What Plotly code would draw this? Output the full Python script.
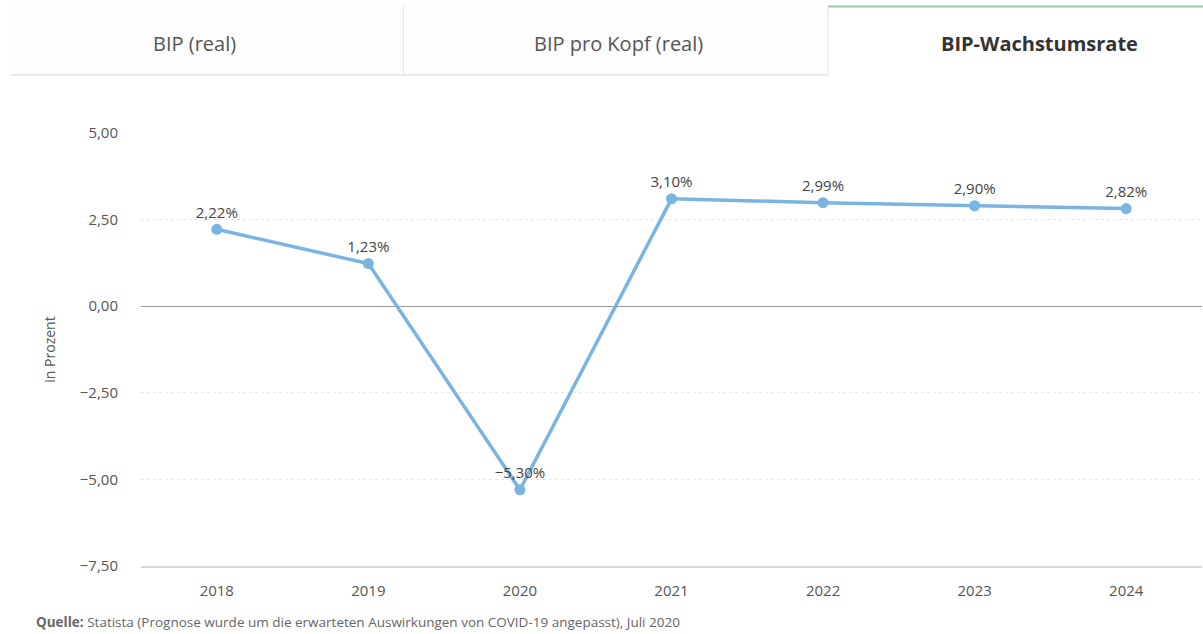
import plotly.graph_objects as go

# Growth rate of real GDP (percent), forecast adjusted for COVID-19
years = ["2018", "2019", "2020", "2021", "2022", "2023", "2024"]
growth = [2.22, 1.23, -5.30, 3.10, 2.99, 2.90, 2.82]
y_ticks = [5.0, 2.5, 0.0, -2.5, -5.0, -7.5]
tab_labels = ["BIP (real)", "BIP pro Kopf (real)", "BIP-Wachstumsrate"]


def de_pct(v):
    s = f"{abs(v):.2f}".replace(".", ",") + "%"
    return ("\u2212" if v < 0 else "") + s


labels = [de_pct(v) for v in growth]

W, H = 1203, 634
L, R, T, B = 141, 1, 133, 68
PW, PH = W - L - R, H - T - B


def px(x):
    return (x - L) / PW


def py(y):
    return (H - B - y) / PH


fig = go.Figure()
fig.add_trace(go.Scatter(
    x=years, y=growth, mode="lines+markers+text",
    text=labels, textposition="top center",
    textfont=dict(family="Open Sans", size=15, color="#444"),
    line=dict(color="#7ab4e0", width=3.5),
    marker=dict(color="#7ab4e0", size=11),
    cliponaxis=False, hoverinfo="skip",
))

shapes = []
# tab strip above the chart
shapes.append(dict(type="rect", xref="paper", yref="paper",
                   x0=px(10), x1=px(828), y0=py(75), y1=py(5),
                   fillcolor="#fdfdfd", line=dict(width=0), layer="below"))
shapes.append(dict(type="line", xref="paper", yref="paper",
                   x0=px(10), x1=px(828), y0=py(75), y1=py(75),
                   line=dict(color="#e3e3e3", width=1.5)))
shapes.append(dict(type="line", xref="paper", yref="paper",
                   x0=px(403.5), x1=px(403.5), y0=py(75), y1=py(5),
                   line=dict(color="#e6e6e6", width=1)))
shapes.append(dict(type="line", xref="paper", yref="paper",
                   x0=px(828), x1=px(828), y0=py(75), y1=py(6),
                   line=dict(color="#e3e3e3", width=1)))
shapes.append(dict(type="line", xref="paper", yref="paper",
                   x0=px(828), x1=px(1203), y0=py(6.5), y1=py(6.5),
                   line=dict(color="#9acb95", width=2)))
fig.update_layout(shapes=shapes)

annotations = []
tab_centers = [194, 618, 1039]
for i, (lab, cx) in enumerate(zip(tab_labels, tab_centers)):
    active = i == 2
    annotations.append(dict(
        xref="paper", yref="paper", x=px(cx), y=py(43),
        text=f"<b>{lab}</b>" if active else lab, showarrow=False,
        xanchor="center", yanchor="middle",
        font=dict(family="Open Sans", size=20,
                  color="#333" if active else "#555"),
    ))
annotations.append(dict(
    xref="paper", yref="paper", x=px(34), y=py(622),
    xanchor="left", yanchor="middle", showarrow=False,
    text="<b>Quelle:</b> Statista (Prognose wurde um die erwarteten Auswirkungen "
         "von COVID-19 angepasst), Juli 2020",
    font=dict(family="Open Sans", size=13.5, color="#666"),
))
fig.update_layout(annotations=annotations)

fig.update_layout(
    width=W, height=H,
    margin=dict(l=L, r=R, t=T, b=B),
    paper_bgcolor="white", plot_bgcolor="white",
    separators=",.",
    showlegend=False,
    font=dict(family="Open Sans", color="#666"),
    xaxis=dict(
        type="category", range=[-0.5, 6.5],
        showgrid=False, showline=True, linecolor="#d9d9d9", linewidth=1.5,
        ticks="", tickfont=dict(size=15, color="#555"),
        ticklabelstandoff=10, fixedrange=True,
    ),
    yaxis=dict(
        range=[-7.5, 5.0], tickvals=y_ticks, tickformat=".2f",
        showgrid=True, gridcolor="#e8e8e8", griddash="dot", gridwidth=1,
        zeroline=True, zerolinecolor="#9a9a9a", zerolinewidth=1,
        showline=False, ticks="", tickfont=dict(size=15, color="#555"),
        ticklabelstandoff=22,
        title=dict(text="in Prozent", font=dict(size=14, color="#555"), standoff=20),
        fixedrange=True,
    ),
)

fig.write_html("out.html")
